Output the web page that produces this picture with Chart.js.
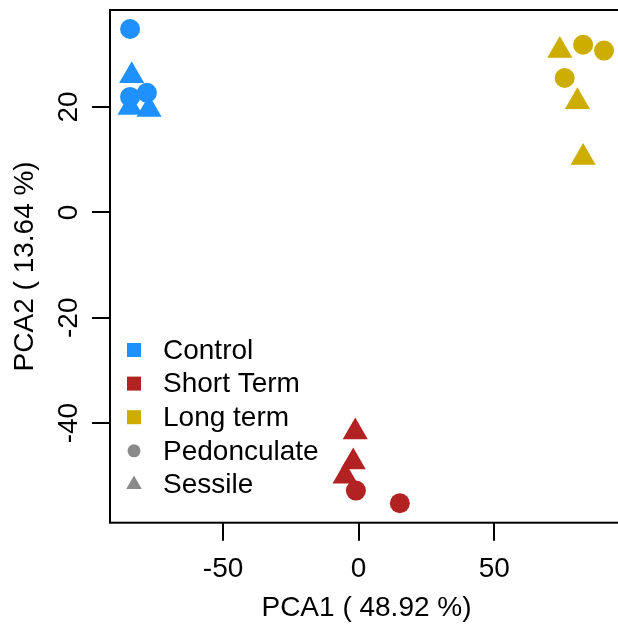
<!DOCTYPE html>
<html>
<head>
<meta charset="utf-8">
<script src="https://cdn.jsdelivr.net/npm/chart.js@4/dist/chart.umd.min.js"></script>
<style>
  html, body { margin: 0; padding: 0; overflow: hidden; background: #fff; }
  #wrap { width: 618px; height: 630px; overflow: hidden; }
  canvas { display: block; }
</style>
</head>
<body>
<div id="wrap"><canvas id="c" width="640" height="630"></canvas></div>
<script>
// ---- data ----
const groups = ["Control", "Short Term", "Long term"];
const shapes = ["Pedonculate", "Sessile"];
const groupColors = ["#1E90FF", "#B22222", "#CDAD00"];

const controlPedX = [-84.3, -84.3, -78.1];
const controlPedY = [34.8, 21.9, 22.7];
const controlSesX = [-83.7, -84.3, -77.3];
const controlSesY = [25.9, 19.9, 19.5];

const shortPedX = [-1.0, 15.2];
const shortPedY = [-52.8, -55.2];
const shortSesX = [-1.25, -2.0, -5.0];
const shortSesY = [-41.7, -47.4, -50.1];

const longPedX = [82.8, 90.5, 76.0];
const longPedY = [31.8, 30.7, 25.5];
const longSesX = [74.2, 80.7, 82.8];
const longSesY = [30.7, 21.0, 10.4];

const xTicks = [-50, 0, 50];
const yTicks = [-40, -20, 0, 20];
const xTitle = "PCA1 ( 48.92 %)";
const yTitle = "PCA2 ( 13.64 %)";

// ---- build ----
const FONT = "'Liberation Sans', Arial, sans-serif";
function pts(xs, ys) { return xs.map((x, i) => ({ x: x, y: ys[i] })); }

const series = [
  [controlPedX, controlPedY, 0, 'circle'],
  [controlSesX, controlSesY, 0, 'triangle'],
  [shortPedX, shortPedY, 1, 'circle'],
  [shortSesX, shortSesY, 1, 'triangle'],
  [longPedX, longPedY, 2, 'circle'],
  [longSesX, longSesY, 2, 'triangle']
];
const datasets = series.map(s => ({
  label: groups[s[2]] + ' ' + (s[3] === 'circle' ? shapes[0] : shapes[1]),
  data: pts(s[0], s[1]),
  pointStyle: s[3],
  pointRadius: s[3] === 'circle' ? 10 : 14.5,
  pointHoverRadius: s[3] === 'circle' ? 10 : 14.5,
  backgroundColor: groupColors[s[2]],
  borderWidth: 0,
  showLine: false
}));

const boxPlugin = {
  id: 'box',
  afterDraw(chart) {
    const { ctx, chartArea: a } = chart;
    ctx.save();
    ctx.strokeStyle = '#000';
    ctx.lineWidth = 2;
    ctx.strokeRect(a.left, a.top, a.right - a.left, a.bottom - a.top);
    ctx.restore();
  }
};

const legendPlugin = {
  id: 'rlegend',
  afterDraw(chart) {
    const { ctx } = chart;
    const items = [
      { t: groups[0], c: groupColors[0], s: 'square' },
      { t: groups[1], c: groupColors[1], s: 'square' },
      { t: groups[2], c: groupColors[2], s: 'square' },
      { t: shapes[0], c: '#8a8a8a', s: 'circle' },
      { t: shapes[1], c: '#8a8a8a', s: 'triangle' }
    ];
    const x0 = 134, y0 = 350, dy = 33.6;
    ctx.save();
    ctx.font = '28px ' + FONT;
    ctx.textBaseline = 'middle';
    ctx.textAlign = 'left';
    items.forEach((it, i) => {
      const y = y0 + i * dy;
      ctx.fillStyle = it.c;
      if (it.s === 'square') {
        ctx.fillRect(x0 - 7, y - 7, 14, 14);
      } else if (it.s === 'circle') {
        ctx.beginPath(); ctx.arc(x0, y, 6.5, 0, Math.PI * 2); ctx.fill();
      } else {
        const r = 9;
        ctx.beginPath();
        ctx.moveTo(x0, y - r);
        ctx.lineTo(x0 + r * Math.sin(2 * Math.PI / 3), y + r / 2);
        ctx.lineTo(x0 - r * Math.sin(2 * Math.PI / 3), y + r / 2);
        ctx.closePath(); ctx.fill();
      }
      ctx.fillStyle = '#000';
      ctx.fillText(it.t, 163, y + 1);
    });
    ctx.restore();
  }
};

new Chart(document.getElementById('c'), {
  type: 'scatter',
  data: { datasets: datasets },
  plugins: [boxPlugin, legendPlugin],
  options: {
    responsive: false,
    animation: false,
    events: [],
    layout: { autoPadding: false, padding: { top: 10, right: 17, left: 0, bottom: 0 } },
    plugins: { legend: { display: false }, tooltip: { enabled: false } },
    scales: {
      x: {
        type: 'linear',
        min: -91.7,
        max: 97.5,
        afterBuildTicks: s => { s.ticks = xTicks.map(v => ({ value: v })); },
        afterFit: s => { s.height = 107.3; s.paddingLeft = 0; s.paddingRight = 0; },
        grid: { drawOnChartArea: false, drawTicks: true, tickLength: 18, color: '#000', lineWidth: 2 },
        border: { display: false },
        ticks: { color: '#000', font: { family: FONT, size: 28 }, padding: 12, maxRotation: 0 },
        title: { display: true, text: xTitle, color: '#000', font: { family: FONT, size: 28 }, padding: 5 }
      },
      y: {
        type: 'linear',
        min: -58.9,
        max: 38.4,
        afterBuildTicks: s => { s.ticks = yTicks.map(v => ({ value: v })); },
        afterFit: s => { s.width = 110; s.paddingTop = 0; s.paddingBottom = 0; },
        grid: { drawOnChartArea: false, drawTicks: true, tickLength: 18, color: '#000', lineWidth: 2 },
        border: { display: false },
        ticks: { color: '#000', font: { family: FONT, size: 28 }, padding: 2, minRotation: 90, maxRotation: 90, crossAlign: 'center' },
        title: { display: true, text: yTitle, color: '#000', font: { family: FONT, size: 28 }, padding: 8 }
      }
    }
  }
});
</script>
</body>
</html>
